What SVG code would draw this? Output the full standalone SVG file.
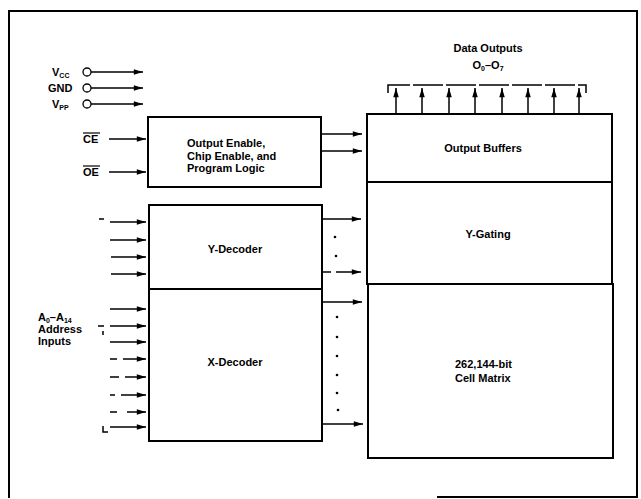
<svg xmlns="http://www.w3.org/2000/svg" width="641" height="499" viewBox="0 0 641 499">
<defs>
<style>
.t{font-family:"Liberation Sans",Arial,sans-serif;font-weight:bold;font-size:11px;fill:#000}
.c{text-anchor:middle}
.box{fill:none;stroke:#000;stroke-width:2}
.ln{fill:none;stroke:#000;stroke-width:1.5}
.ar{fill:none;stroke:#000;stroke-width:1.5;marker-end:url(#ah)}
.dot{fill:#000}
</style>
<marker id="ah" viewBox="0 0 10 6" refX="10" refY="3" markerWidth="10" markerHeight="5.5" orient="auto" markerUnits="userSpaceOnUse"><path d="M0,0 L10,3 L0,6 z" fill="#000"/></marker>
</defs>
<rect width="641" height="499" fill="#fff"/>
<path id="frame" d="M437 497 H637 V11 H9 V498" fill="none" stroke="#000" stroke-width="2"/>

<g id="power-pins">
<text class="t" x="52" y="76">V<tspan font-size="7" dy="2">CC</tspan></text>
<text class="t" x="48" y="92">GND</text>
<text class="t" x="52" y="108">V<tspan font-size="7" dy="2">PP</tspan></text>
<circle cx="87" cy="72" r="4" fill="#fff" stroke="#000" stroke-width="1.3"/>
<circle cx="87" cy="88" r="4" fill="#fff" stroke="#000" stroke-width="1.3"/>
<circle cx="87" cy="104" r="4" fill="#fff" stroke="#000" stroke-width="1.3"/>
</g>

<g id="ctrl-inputs">
<text class="t" x="83" y="143">CE</text>
<line x1="83" y1="133" x2="100" y2="133" stroke="#000" stroke-width="1.2"/>
<text class="t" x="83" y="176">OE</text>
<line x1="83" y1="166" x2="100" y2="166" stroke="#000" stroke-width="1.2"/>
</g>

<g id="control-logic">
<rect class="box" x="148" y="117" width="173" height="70"/>
<text class="t" x="187" y="147">Output Enable,</text>
<text class="t" x="187" y="160">Chip Enable, and</text>
<text class="t" x="187" y="172">Program Logic</text>
</g>

<g id="y-decoder">
<rect class="box" x="149" y="205" width="173" height="84"/>
<text class="t c" x="235" y="253">Y-Decoder</text>
</g>

<g id="x-decoder">
<rect class="box" x="149" y="289" width="173" height="152"/>
<text class="t c" x="235" y="366">X-Decoder</text>
</g>

<g id="address-label">
<text class="t" x="38" y="321">A<tspan font-size="7" dy="2">0</tspan><tspan dy="-2">–A</tspan><tspan font-size="7" dy="2">14</tspan></text>
<text class="t" x="38" y="333">Address</text>
<text class="t" x="38" y="345">Inputs</text>
<path class="ln" d="M99 219 H104 M98 326 H104 M103 331 V335 M103 426 V432 H108" stroke-width="1.2"/>
</g>

<g id="output-buffers">
<rect class="box" x="367" y="114" width="245" height="68"/>
<text class="t c" x="483" y="152">Output Buffers</text>
</g>

<g id="y-gating">
<rect class="box" x="367" y="182" width="245" height="102"/>
<text class="t c" x="488" y="238">Y-Gating</text>
</g>

<g id="cell-matrix">
<rect class="box" x="368" y="284" width="245" height="174"/>
<text class="t" x="455" y="368">262,144-bit</text>
<text class="t" x="455" y="382">Cell Matrix</text>
</g>

<g id="data-outputs">
<text class="t c" x="488" y="52">Data Outputs</text>
<text class="t c" x="488" y="69">O<tspan font-size="7" dy="2">0</tspan><tspan dy="-2">–O</tspan><tspan font-size="7" dy="2">7</tspan></text>
<path class="ln" d="M388 93 V85 H586 V93" stroke-dasharray="30 3"/>
</g>

<g id="connectors">
<line class="ar" x1="91" y1="72" x2="143" y2="72"/>
<line class="ar" x1="91" y1="88" x2="143" y2="88"/>
<line class="ar" x1="91" y1="104" x2="143" y2="104"/>
<line class="ar" x1="109" y1="139" x2="146" y2="139"/>
<line class="ar" x1="109" y1="172" x2="146" y2="172"/>
<line class="ar" x1="322" y1="134" x2="362" y2="134"/>
<line class="ar" x1="322" y1="151" x2="362" y2="151"/>
<line class="ar" x1="110" y1="222" x2="146" y2="222"/>
<line class="ar" x1="110" y1="240" x2="146" y2="240"/>
<line class="ar" x1="111" y1="257" x2="146" y2="257"/>
<line class="ar" x1="111" y1="274" x2="146" y2="274"/>
<line class="ar" x1="110" y1="309" x2="146" y2="309"/>
<line class="ar" x1="110" y1="326" x2="146" y2="326"/>
<line class="ar" x1="110" y1="342" x2="146" y2="342"/>
<path class="ln" d="M110 359 H117 M110 377 H119 M110 395 H115 M110 412 H117"/>
<line class="ar" x1="123" y1="359" x2="146" y2="359"/>
<line class="ar" x1="125" y1="377" x2="146" y2="377"/>
<line class="ar" x1="121" y1="395" x2="146" y2="395"/>
<line class="ar" x1="127" y1="412" x2="146" y2="412"/>
<line class="ar" x1="110" y1="427" x2="146" y2="427"/>
<line class="ar" x1="322" y1="219" x2="361" y2="219"/>
<path class="ln" d="M322 272 H331"/>
<line class="ar" x1="336" y1="272" x2="361" y2="272"/>
<line class="ar" x1="322" y1="302" x2="362" y2="302"/>
<line class="ar" x1="322" y1="424" x2="363" y2="424"/>
<circle class="dot" cx="335" cy="237" r="1.3"/>
<circle class="dot" cx="336" cy="256" r="1.3"/>
<circle class="dot" cx="337" cy="317" r="1.3"/>
<circle class="dot" cx="337" cy="337" r="1.3"/>
<circle class="dot" cx="337" cy="356" r="1.3"/>
<circle class="dot" cx="337" cy="375" r="1.3"/>
<circle class="dot" cx="337" cy="393" r="1.3"/>
<circle class="dot" cx="338" cy="410" r="1.3"/>
<line class="ar" x1="396" y1="114" x2="396" y2="88"/>
<line class="ar" x1="422" y1="114" x2="422" y2="88"/>
<line class="ar" x1="449" y1="114" x2="449" y2="88"/>
<line class="ar" x1="475" y1="114" x2="475" y2="88"/>
<line class="ar" x1="502" y1="114" x2="502" y2="88"/>
<line class="ar" x1="528" y1="114" x2="528" y2="88"/>
<line class="ar" x1="554" y1="114" x2="554" y2="88"/>
<line class="ar" x1="579" y1="114" x2="579" y2="88"/>
</g>
</svg>
